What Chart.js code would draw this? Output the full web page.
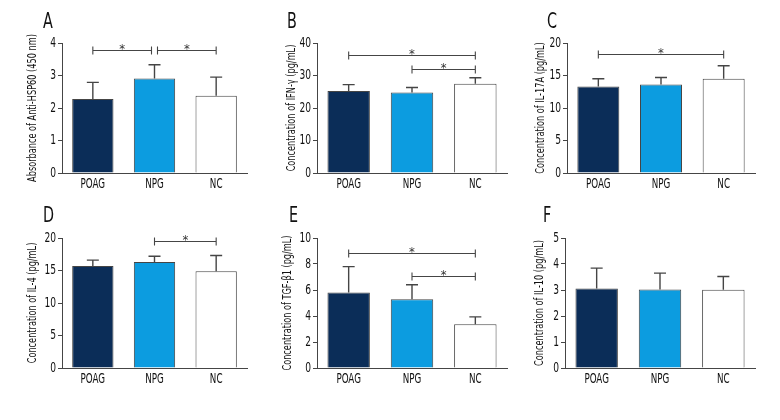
<!DOCTYPE html>
<html lang="en">
<head>
  <meta charset="UTF-8">
  <title>Cytokine panels</title>
  <script src="https://cdn.jsdelivr.net/npm/chart.js"></script>
  <style>
    body { margin: 0; background: #fff; }
    #wrap { position: relative; width: 780px; height: 420px; }
    .panel { position: absolute; }
  </style>
</head>
<body>
<div id="wrap"></div>

<script>
// groups on the x axis
const groups = ["POAG", "NPG", "NC"];

// A: anti-HSP60 absorbance
const hspMean = [2.28, 2.91, 2.38];
const hspSD = [0.51, 0.42, 0.57];
const hspSig = [[0, 1, 3.8], [1, 2, 3.8]];
const hspTicks = [0, 1, 2, 3, 4];

// B: IFN-y
const ifnMean = [25.2, 24.8, 27.5];
const ifnSD = [2.0, 1.5, 1.8];
const ifnSig = [[0, 2, 36.4], [1, 2, 31.9]];
const ifnTicks = [0, 10, 20, 30, 40];

// C: IL-17A
const il17Mean = [13.3, 13.6, 14.5];
const il17SD = [1.2, 1.1, 2.0];
const il17Sig = [[0, 2, 18.3]];
const il17Ticks = [0, 5, 10, 15, 20];

// D: IL-4
const il4Mean = [15.7, 16.3, 14.9];
const il4SD = [0.9, 0.9, 2.4];
const il4Sig = [[1, 2, 19.5]];
const il4Ticks = [0, 5, 10, 15, 20];

// E: TGF-b1
const tgfMean = [5.8, 5.28, 3.37];
const tgfSD = [2.0, 1.12, 0.56];
const tgfSig = [[0, 2, 8.85], [1, 2, 7.1]];
const tgfTicks = [0, 2, 4, 6, 8, 10];

// F: IL-10
const il10Mean = [3.06, 3.02, 3.01];
const il10SD = [0.78, 0.63, 0.51];
const il10Sig = [];
const il10Ticks = [0, 1, 2, 3, 4, 5];

// no condensed font installed, so text is squeezed sideways
const FONT = '"DejaVu Sans Condensed", "DejaVu Sans", sans-serif';
const barColors = ["#0b2d58", "#0c9ce0", "#ffffff"];
const lineColor = "#454545";
const textColor = "#111";

const panels = [
  { letter: "A", title: "Absorbance of Anti-HSP60 (450 nm)", mean: hspMean, sd: hspSD, sig: hspSig, ticks: hspTicks,
    x: 0, y: 0, w: 260, h: 200, area: [62, 43, 247, 173], titleX: 33, letterX: 43, letterY: 12 },
  { letter: "B", title: "Concentration of IFN-\u03b3 (pg/mL)", mean: ifnMean, sd: ifnSD, sig: ifnSig, ticks: ifnTicks,
    x: 260, y: 0, w: 260, h: 200, area: [57, 43, 247, 173], titleX: 32, letterX: 27, letterY: 12 },
  { letter: "C", title: "Concentration of IL-17A (pg/mL)", mean: il17Mean, sd: il17SD, sig: il17Sig, ticks: il17Ticks,
    x: 520, y: 0, w: 260, h: 200, area: [47, 43, 235, 173], titleX: 21, letterX: 27, letterY: 12 },
  { letter: "D", title: "Concentration of IL-4 (pg/mL)", mean: il4Mean, sd: il4SD, sig: il4Sig, ticks: il4Ticks,
    x: 0, y: 200, w: 260, h: 220, area: [62, 38, 247, 168], titleX: 33, letterX: 43, letterY: 6 },
  { letter: "E", title: "Concentration of TGF-\u03b21 (pg/mL)", mean: tgfMean, sd: tgfSD, sig: tgfSig, ticks: tgfTicks,
    x: 260, y: 200, w: 260, h: 220, area: [57, 38, 247, 168], titleX: 28, letterX: 29, letterY: 6 },
  { letter: "F", title: "Concentration of IL-10 (pg/mL)", mean: il10Mean, sd: il10SD, sig: il10Sig, ticks: il10Ticks,
    x: 520, y: 200, w: 260, h: 220, area: [45, 38, 235, 168], titleX: 20, letterX: 23, letterY: 6 }
];

function squeezedText(ctx, text, x, y, angle, align, baseline, squeeze) {
  ctx.save();
  ctx.translate(x, y);
  if (angle) ctx.rotate(angle);
  ctx.scale(squeeze, 1);
  ctx.textAlign = align;
  ctx.textBaseline = baseline;
  ctx.fillText(text, 0, 0);
  ctx.restore();
}

// error bars, brackets, condensed labels and panel letter
const extras = {
  id: "extras",
  afterDatasetsDraw(chart, args, opts) {
    const ctx = chart.ctx;
    const meta = chart.getDatasetMeta(0);
    const ys = chart.scales.y;
    ctx.save();
    ctx.strokeStyle = lineColor;
    ctx.lineWidth = 1.4;
    meta.data.forEach((bar, i) => {
      const top = ys.getPixelForValue(opts.mean[i] + opts.sd[i]);
      ctx.beginPath();
      ctx.moveTo(bar.x, bar.y);
      ctx.lineTo(bar.x, top);
      ctx.moveTo(bar.x - 6, top);
      ctx.lineTo(bar.x + 6, top);
      ctx.stroke();
    });
    ctx.restore();
  },
  afterDraw(chart, args, opts) {
    const ctx = chart.ctx;
    const xs = chart.scales.x;
    const ys = chart.scales.y;
    const area = chart.chartArea;
    ctx.save();
    ctx.strokeStyle = lineColor;
    ctx.fillStyle = "#333";
    ctx.lineWidth = 1.1;
    opts.sig.forEach(([a, b, v]) => {
      let x1 = xs.getPixelForValue(a);
      let x2 = xs.getPixelForValue(b);
      // brackets meeting at the same level get a small gap
      opts.sig.forEach(([c, d, w]) => {
        if (w !== v) return;
        if (d === a) x1 += 3;
        if (c === b) x2 -= 3;
      });
      const y = Math.round(ys.getPixelForValue(v)) + 0.5;
      ctx.beginPath();
      ctx.moveTo(x1, y);
      ctx.lineTo(x2, y);
      ctx.moveTo(x1, y - 4);
      ctx.lineTo(x1, y + 4);
      ctx.moveTo(x2, y - 4);
      ctx.lineTo(x2, y + 4);
      ctx.stroke();
      ctx.font = "13px " + FONT;
      ctx.textAlign = "center";
      ctx.textBaseline = "alphabetic";
      ctx.fillText("*", (x1 + x2) / 2, y + 2);
    });

    ctx.fillStyle = textColor;
    // x labels
    ctx.font = "13.5px " + FONT;
    xs.ticks.forEach((t, i) => {
      squeezedText(ctx, groups[i], xs.getPixelForTick(i), area.bottom + 11, 0, "center", "middle", 0.72);
    });
    // y tick labels
    ctx.font = "13.5px " + FONT;
    ys.ticks.forEach(t => {
      squeezedText(ctx, String(t.value), area.left - 6, ys.getPixelForValue(t.value), 0, "right", "middle", 0.75);
    });
    // y title
    ctx.font = "13px " + FONT;
    squeezedText(ctx, opts.title, opts.titleX, (area.top + area.bottom) / 2, -Math.PI / 2, "center", "middle", 0.7);
    // panel letter
    ctx.font = "21px " + FONT;
    squeezedText(ctx, opts.letter, opts.letterX, opts.letterY, 0, "left", "top", 0.76);
    ctx.restore();
  }
};

const wrap = document.getElementById("wrap");

panels.forEach(p => {
  const div = document.createElement("div");
  div.className = "panel";
  div.style.left = p.x + "px";
  div.style.top = p.y + "px";
  div.style.width = p.w + "px";
  div.style.height = p.h + "px";
  const canvas = document.createElement("canvas");
  div.appendChild(canvas);
  wrap.appendChild(div);

  const [l, t, r, b] = p.area;
  new Chart(canvas, {
    type: "bar",
    data: {
      labels: groups,
      datasets: [{
        data: p.mean,
        backgroundColor: barColors,
        borderColor: lineColor,
        borderWidth: 1,
        barPercentage: 0.67,
        categoryPercentage: 1
      }]
    },
    options: {
      responsive: true,
      maintainAspectRatio: false,
      animation: false,
      layout: { padding: { left: 0, top: t, right: p.w - r, bottom: 0 } },
      plugins: {
        legend: { display: false },
        tooltip: { enabled: false },
        extras: { mean: p.mean, sd: p.sd, sig: p.sig, letter: p.letter, letterX: p.letterX, letterY: p.letterY,
                  title: p.title, titleX: p.titleX }
      },
      scales: {
        x: {
          grid: { display: false },
          border: { display: true, color: lineColor, width: 1 },
          ticks: { display: false },
          afterFit(scale) { scale.height = p.h - b; }
        },
        y: {
          min: p.ticks[0],
          max: p.ticks[p.ticks.length - 1],
          afterBuildTicks(scale) { scale.ticks = p.ticks.map(v => ({ value: v })); },
          grid: { drawOnChartArea: false, drawTicks: true, tickLength: 4, color: lineColor },
          border: { display: true, color: lineColor, width: 1 },
          ticks: { display: false },
          afterFit(scale) { scale.width = l; }
        }
      }
    },
    plugins: [extras]
  });
});
</script>
</body>
</html>
